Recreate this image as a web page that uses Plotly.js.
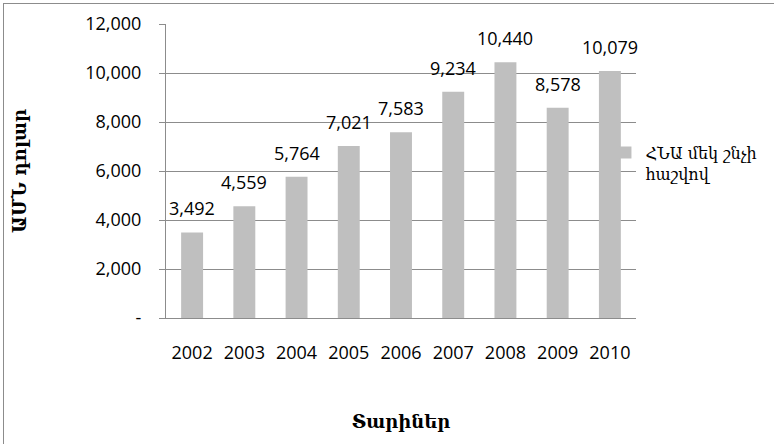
<!DOCTYPE html>
<html>
<head>
<meta charset="utf-8">
<script src="https://cdn.plot.ly/plotly-3.0.1.min.js"></script>
<style>
  html, body { margin: 0; padding: 0; background: #fff; }
  #wrap { position: relative; width: 774px; height: 444px; overflow: hidden; }
  #frame { position: absolute; left: 3px; top: 3px; width: 800px; height: 500px; border-left: 1.5px solid #8c8c8c; border-top: 1.5px solid #8c8c8c; box-sizing: border-box; pointer-events: none; }
  #chart { position: absolute; left: 0; top: 0; width: 774px; height: 444px; }
</style>
</head>
<body>
<div id="wrap">
  <div id="chart"></div>
  <div id="frame"></div>
</div>
<script>
const years = ['2002', '2003', '2004', '2005', '2006', '2007', '2008', '2009', '2010'];
const gdpPerCapita = [3492, 4559, 5764, 7021, 7583, 9234, 10440, 8578, 10079];
const seriesName = 'ՀՆԱ մեկ շնչի<br>հաշվով';
const yTickVals = [0, 2000, 4000, 6000, 8000, 10000, 12000];
const yTickText = ['-', '2,000', '4,000', '6,000', '8,000', '10,000', '12,000'];
const xTitle = 'Տարիներ';
const yTitle = 'ԱՄՆ դոլար';

const fmt = v => v.toLocaleString('en-US');

const trace = {
  type: 'bar',
  x: years,
  y: gdpPerCapita,
  name: seriesName,
  marker: { color: '#BFBFBF', line: { width: 0 } },
  showlegend: true,
  hoverinfo: 'x+y'
};

// category axis: annotation x is the category's index
const annotations = years.map((yr, i) => ({
  x: i,
  y: gdpPerCapita[i],
  xref: 'x',
  yref: 'y',
  text: fmt(gdpPerCapita[i]),
  showarrow: false,
  yanchor: 'bottom',
  yshift: 10,
  font: { family: 'Open Sans, sans-serif', size: 18, color: '#000' }
}));

const layout = {
  width: 774,
  height: 444,
  margin: { l: 166, r: 138, t: 24, b: 126 },
  paper_bgcolor: '#ffffff',
  plot_bgcolor: '#ffffff',
  bargap: 0.58,
  font: { family: 'Open Sans, sans-serif', size: 18, color: '#000' },
  xaxis: {
    type: 'category',
    range: [-0.5, years.length - 0.5],
    autorange: false,
    showline: true,
    linecolor: '#8c8c8c',
    linewidth: 1,
    ticks: '',
    ticklabelstandoff: 18,
    tickfont: { family: 'Open Sans, sans-serif', size: 18, color: '#000' },
    title: { text: xTitle, standoff: 52, font: { family: 'DejaVu Serif, serif', size: 18, color: '#000', weight: 'bold' } },
    automargin: false
  },
  yaxis: {
    range: [0, 12000],
    autorange: false,
    tickvals: yTickVals,
    ticktext: yTickText,
    showline: true,
    linecolor: '#8c8c8c',
    linewidth: 1,
    ticks: 'outside',
    ticklen: 6,
    tickcolor: '#8c8c8c',
    ticklabelstandoff: 14,
    showgrid: true,
    gridcolor: '#8c8c8c',
    gridwidth: 1,
    zeroline: false,
    tickfont: { family: 'Open Sans, sans-serif', size: 18, color: '#000' },
    title: { text: yTitle, standoff: 53, font: { family: 'DejaVu Serif, serif', size: 18, color: '#000', weight: 'bold' } },
    automargin: false
  },
  showlegend: true,
  legend: {
    x: 0.935,
    xanchor: 'left',
    y: 0.62,
    yanchor: 'top',
    valign: 'top',
    bgcolor: 'rgba(0,0,0,0)',
    font: { family: 'DejaVu Serif, serif', size: 16, color: '#000' }
  },
  annotations: annotations
};

Plotly.newPlot('chart', [trace], layout, { displayModeBar: false, staticPlot: true });
</script>
</body>
</html>
